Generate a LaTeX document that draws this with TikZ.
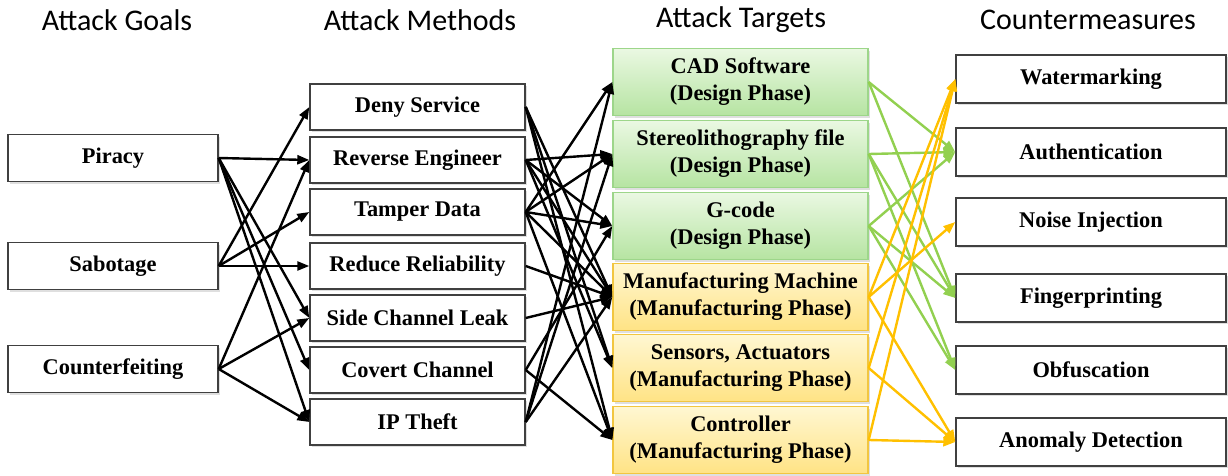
\documentclass[tikz,border=0pt]{standalone}
\usepackage{fontspec}
\setmainfont{Liberation Serif}
\newfontfamily\headfont{Carlito}
\usepackage{tikz}
\usetikzlibrary{arrows.meta}
\usetikzlibrary{shadows}

\definecolor{cmgreen}{HTML}{92D050}
\definecolor{cmyellow}{HTML}{FFC000}
\definecolor{greentop}{HTML}{EAF8E2}
\definecolor{greenbot}{HTML}{B6E4A2}
\definecolor{greenline}{HTML}{9DD68A}
\definecolor{yellowtop}{HTML}{FFF7D2}
\definecolor{yellowbot}{HTML}{FFE385}
\definecolor{yellowline}{HTML}{F2C640}

\tikzset{
  head/.style={font=\headfont\fontsize{15}{17}\selectfont},
  box/.style={draw=black!75, fill=white, line width=0.7pt, align=center, inner sep=0pt,
    font=\bfseries\fontsize{11.2}{13.5}\selectfont,
    drop shadow={shadow xshift=1.2pt, shadow yshift=-1.2pt, opacity=0.25}},
  goalbox/.style={box, minimum width=105pt, minimum height=23.5pt},
  methodbox/.style={box, minimum width=107.5pt, minimum height=23pt},
  designbox/.style={box, draw=greenline, top color=greentop, bottom color=greenbot,
    minimum width=127.5pt, minimum height=33.5pt},
  makebox/.style={box, draw=yellowline, top color=yellowtop, bottom color=yellowbot,
    minimum width=127.5pt, minimum height=33.5pt},
  cmbox/.style={box, minimum width=135pt, minimum height=24pt},
  link/.style={line width=1.2pt, -{Triangle[length=6pt, width=4.5pt]}},
}

\begin{document}
\begin{tikzpicture}[x=0.5pt, y=-0.5pt]

\useasboundingbox (0,0) rectangle (1228,476);

% column titles
\node [head] (hgoal) at (117, 20) {Attack Goals};
\node [head] (hmeth) at (420, 20) {Attack Methods};
\node [head] (htarg) at (741, 20) {Attack Targets};
\node [head] (hcm) at (1088, 20) {Countermeasures};

% attack goals
\node [goalbox] (piracy) at (113, 158) {Piracy};
\node [goalbox] (sabotage) at (113, 266) {Sabotage};
\node [goalbox] (counterfeit) at (113, 369) {Counterfeiting};

% attack methods
\node [methodbox] (deny) at (417.5, 107) {Deny Service};
\node [methodbox] (reveng) at (417.5, 160) {Reverse Engineer};
\node [methodbox] (tamper) at (417.5, 212) {Tamper Data};
\node [methodbox] (reduce) at (417.5, 266) {Reduce Reliability};
\node [methodbox] (sidech) at (417.5, 318) {Side Channel Leak};
\node [methodbox] (covert) at (417.5, 370) {Covert Channel};
\node [methodbox] (iptheft) at (417.5, 422) {IP Theft};

% attack targets
\node [designbox] (cad) at (740.5, 82) {CAD Software\\(Design Phase)};
\node [designbox] (stl) at (740.5, 154) {Stereolithography file\\(Design Phase)};
\node [designbox] (gcode) at (740.5, 226) {G-code\\(Design Phase)};
\node [makebox] (mmach) at (740.5, 297) {Manufacturing Machine\\(Manufacturing Phase)};
\node [makebox] (sensors) at (740.5, 368) {Sensors, Actuators\\(Manufacturing Phase)};
\node [makebox] (ctrl) at (740.5, 440) {Controller\\(Manufacturing Phase)};

% countermeasures
\node [cmbox] (water) at (1091, 79) {Watermarking};
\node [cmbox] (auth) at (1091, 152) {Authentication};
\node [cmbox] (noise) at (1091, 222) {Noise Injection};
\node [cmbox] (finger) at (1091, 298) {Fingerprinting};
\node [cmbox] (obfus) at (1091, 370) {Obfuscation};
\node [cmbox] (anomaly) at (1091, 442) {Anomaly Detection};

% goals to methods
\draw [link] (piracy.east) -- (reveng.west);
\draw [link] (piracy.east) -- (sidech.west);
\draw [link] (piracy.east) -- (covert.west);
\draw [link] (piracy.east) -- (iptheft.west);
\draw [link] (sabotage.east) -- (deny.west);
\draw [link] (sabotage.east) -- (tamper.west);
\draw [link] (sabotage.east) -- (reduce.west);
\draw [link] (counterfeit.east) -- (reveng.west);
\draw [link] (counterfeit.east) -- (sidech.west);
\draw [link] (counterfeit.east) -- (iptheft.west);

% methods to targets
\draw [link] (deny.east) -- (mmach.west);
\draw [link] (deny.east) -- (sensors.west);
\draw [link] (deny.east) -- (ctrl.west);
\draw [link] (reveng.east) -- (stl.west);
\draw [link] (reveng.east) -- (gcode.west);
\draw [link] (reveng.east) -- (mmach.west);
\draw [link] (reveng.east) -- (sensors.west);
\draw [link] (tamper.east) -- (cad.west);
\draw [link] (tamper.east) -- (stl.west);
\draw [link] (tamper.east) -- (gcode.west);
\draw [link] (tamper.east) -- (mmach.west);
\draw [link] (tamper.east) -- (ctrl.west);
\draw [link] (reduce.east) -- (mmach.west);
\draw [link] (sidech.east) -- (mmach.west);
\draw [link] (covert.east) -- (gcode.west);
\draw [link] (covert.east) -- (ctrl.west);
\draw [link] (iptheft.east) -- (cad.west);
\draw [link] (iptheft.east) -- (stl.west);
\draw [link] (iptheft.east) -- (mmach.west);

% targets to countermeasures
\draw [link, cmgreen] (cad.east) -- (auth.west);
\draw [link, cmgreen] (cad.east) -- (finger.west);
\draw [link, cmgreen] (stl.east) -- (auth.west);
\draw [link, cmgreen] (stl.east) -- (finger.west);
\draw [link, cmgreen] (stl.east) -- (obfus.west);
\draw [link, cmgreen] (gcode.east) -- (auth.west);
\draw [link, cmgreen] (gcode.east) -- (finger.west);
\draw [link, cmgreen] (gcode.east) -- (obfus.west);
\draw [link, cmyellow] (mmach.east) -- (water.west);
\draw [link, cmyellow] (mmach.east) -- (noise.west);
\draw [link, cmyellow] (mmach.east) -- (anomaly.west);
\draw [link, cmyellow] (sensors.east) -- (water.west);
\draw [link, cmyellow] (sensors.east) -- (anomaly.west);
\draw [link, cmyellow] (ctrl.east) -- (water.west);
\draw [link, cmyellow] (ctrl.east) -- (anomaly.west);

\end{tikzpicture}
\end{document}
